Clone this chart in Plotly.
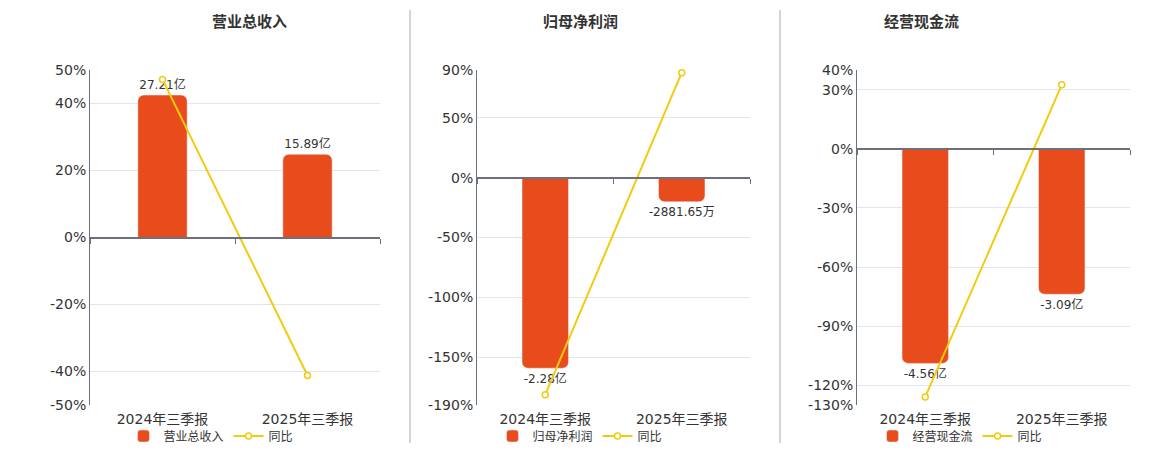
"""Three panels: bars (amount) with a YoY line on a shared zero."""
import plotly.graph_objects as go

W, H = 1160, 450

# data
categories = ["2024年三季报", "2025年三季报"]

revenue = [27.21, 15.89]            # 亿
revenue_labels = ["27.21亿", "15.89亿"]
revenue_yoy = [47.2, -41.2]         # %

profit = [-2.28, -0.288165]         # 亿
profit_labels = ["-2.28亿", "-2881.65万"]
profit_yoy = [-181.4, 87.8]

cashflow = [-4.56, -3.09]           # 亿
cashflow_labels = ["-4.56亿", "-3.09亿"]
cashflow_yoy = [-125.9, 32.5]

titles = ["营业总收入", "归母净利润", "经营现金流"]
pct_ticks = [[-50, -40, -20, 0, 20, 40, 50],
             [-190, -150, -100, -50, 0, 50, 90],
             [-130, -120, -90, -60, -30, 0, 30, 40]]

panels = [
    (titles[0], revenue, revenue_labels, revenue_yoy, pct_ticks[0]),
    (titles[1], profit, profit_labels, profit_yoy, pct_ticks[1]),
    (titles[2], cashflow, cashflow_labels, cashflow_yoy, pct_ticks[2]),
]

BAR_COLOR = "#E84C1C"
LINE_COLOR = "#F2CB0F"
AXIS_COLOR = "#6E7079"
GRID_COLOR = "#E0E6F1"
TEXT_COLOR = "#333333"
FONT = "DejaVu Sans, Noto Sans CJK SC, sans-serif"

# layout in pixels
plot_x = [(90, 380), (477, 750), (857, 1130)]
plot_top, plot_bottom = 70, 405
title_x = [210, 580, 961]
legend_x = [211, 580, 960]
bar_pad = [1.176, 1.193, 1.194]

y_dom = [1 - plot_bottom / H, 1 - plot_top / H]

fig = go.Figure()
layout = {}

for i, (title, values, labels, yoy, ticks) in enumerate(panels):
    n = i + 1
    sfx = "" if n == 1 else str(n)
    xa, ya = "x" + sfx, "y" + sfx
    pa, ta = "y%d" % (n + 3), "x%d" % (n + 3)
    leg = "legend" + sfx

    pmin, pmax = ticks[0], ticks[-1]
    f = -pmin / (pmax - pmin)   # zero position as fraction of height
    if max(values) > 0:
        hi = max(values) * bar_pad[i]
        lo = -hi * f / (1 - f)
    else:
        lo = min(values) * bar_pad[i]
        hi = -lo * (1 - f) / f

    fig.add_trace(go.Bar(
        x=categories, y=values, name=title, text=labels,
        textposition="outside", cliponaxis=False, constraintext="none",
        textfont=dict(size=12, color=TEXT_COLOR),
        marker=dict(color=BAR_COLOR, cornerradius=6),
        width=0.34, xaxis=xa, yaxis=ya, legend=leg,
    ))
    fig.add_trace(go.Scatter(
        x=categories, y=yoy, name="同比", mode="lines+markers",
        line=dict(color=LINE_COLOR, width=2),
        marker=dict(symbol="circle", size=6, color="white",
                    line=dict(color=LINE_COLOR, width=1.5)),
        cliponaxis=False, xaxis=xa, yaxis=pa, legend=leg,
    ))
    # invisible helper so the zero-line axis with its ticks is drawn
    fig.add_trace(go.Scatter(
        x=categories, y=yoy, mode="none", showlegend=False,
        hoverinfo="skip", xaxis=ta, yaxis=pa,
    ))

    dom = [plot_x[i][0] / W, plot_x[i][1] / W]
    zero_pos = y_dom[0] + f * (y_dom[1] - y_dom[0])

    layout["xaxis" + sfx] = dict(
        domain=dom, anchor=ya, type="category", range=[-0.5, 1.5],
        showgrid=False, showline=False, ticks="", zeroline=False,
        tickfont=dict(size=14, color=TEXT_COLOR), ticklabelstandoff=4,
        automargin=False,
    )
    layout["yaxis" + sfx] = dict(
        domain=y_dom, anchor=xa, range=[lo, hi], visible=False,
    )
    layout["yaxis%d" % (n + 3)] = dict(
        overlaying=ya, anchor=xa, side="left", range=[pmin, pmax],
        tickmode="array", tickvals=ticks,
        ticktext=["%d%%" % v for v in ticks], showgrid=True,
        gridcolor=GRID_COLOR, gridwidth=1, zeroline=False,
        showline=True, linecolor=AXIS_COLOR, linewidth=1,
        ticks="", tickfont=dict(size=14, color=TEXT_COLOR), automargin=False,
    )
    layout["xaxis%d" % (n + 3)] = dict(
        overlaying=xa, anchor="free", position=zero_pos,
        type="category", range=[-0.5, 1.5], showticklabels=False,
        showgrid=False, zeroline=False, ticks="outside",
        tickson="boundaries", ticklen=5, tickcolor=AXIS_COLOR,
        showline=True, linecolor=AXIS_COLOR, linewidth=2, automargin=False,
    )
    layout[leg] = dict(
        orientation="h", x=legend_x[i] / W, xanchor="center",
        y=1 - 436 / H, yanchor="middle", bgcolor="rgba(0,0,0,0)",
        font=dict(size=12, color=TEXT_COLOR), traceorder="normal",
    )

fig.update_layout(**layout)

annotations = [
    dict(text="<b>%s</b>" % t, x=title_x[i] / W, y=1 - 22 / H,
         xref="paper", yref="paper", showarrow=False, yanchor="middle",
         font=dict(size=15, color=TEXT_COLOR))
    for i, t in enumerate(titles)
]
shapes = [
    dict(type="line", xref="paper", yref="paper", x0=px / W, x1=px / W,
         y0=1 - 443 / H, y1=1 - 10 / H, line=dict(color="#AAAAAA", width=1))
    for px in (410, 780)
]

fig.update_layout(
    width=W, height=H,
    margin=dict(l=0, r=0, t=0, b=0, pad=0, autoexpand=False),
    paper_bgcolor="white", plot_bgcolor="white",
    font=dict(family=FONT, color=TEXT_COLOR),
    annotations=annotations, shapes=shapes,
)

# drop the default page margin so the figure sits at the window's corner
fig.write_html("out.html", config={"displayModeBar": False},
               post_script="document.body.style.margin = '0';")
